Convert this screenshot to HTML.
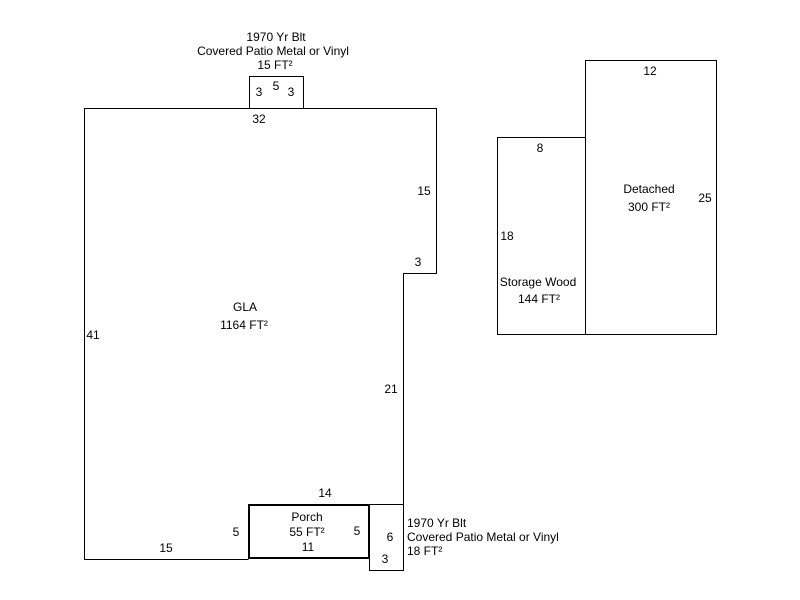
<!DOCTYPE html>
<html><head><meta charset="utf-8"><style>
html,body{margin:0;padding:0;background:#fff;}
svg{display:block;}
text{font-family:"Liberation Sans",Arial,sans-serif;font-size:12px;fill:#000;}
</style></head><body>
<svg width="800" height="600" viewBox="0 0 800 600" xmlns="http://www.w3.org/2000/svg">
<g fill="none" stroke="#000" stroke-width="1" shape-rendering="crispEdges">
<polyline points="248.5,559.5 84.5,559.5 84.5,108.5 436.5,108.5 436.5,273.5 403.5,273.5 403.5,570.5"/>
<rect x="249.5" y="76.5" width="54" height="32"/>
<rect x="369.5" y="504.5" width="34" height="66"/>
<rect x="497.5" y="137.5" width="88" height="197"/>
<rect x="585.5" y="60.5" width="131" height="274"/>
</g>
<rect x="249" y="505" width="120" height="53" fill="none" stroke="#000" stroke-width="2" shape-rendering="crispEdges"/>
<g text-anchor="middle">
<text x="276" y="41">1970 Yr Blt</text>
<text x="273" y="55">Covered Patio Metal or Vinyl</text>
<text x="275" y="69">15 FT²</text>
<text x="259" y="96">3</text>
<text x="276" y="90">5</text>
<text x="291" y="96">3</text>
<text x="259" y="123">32</text>
<text x="424" y="195">15</text>
<text x="418" y="266">3</text>
<text x="245" y="311">GLA</text>
<text x="244" y="329">1164 FT²</text>
<text x="93" y="339">41</text>
<text x="391" y="393">21</text>
<text x="325" y="497">14</text>
<text x="307" y="521">Porch</text>
<text x="307" y="536">55 FT²</text>
<text x="308" y="551">11</text>
<text x="236" y="536">5</text>
<text x="357" y="535">5</text>
<text x="166" y="552">15</text>
<text x="390" y="541">6</text>
<text x="385" y="563">3</text>
<text x="540" y="152">8</text>
<text x="507" y="240">18</text>
<text x="538" y="286">Storage Wood</text>
<text x="539" y="303">144 FT²</text>
<text x="650" y="75">12</text>
<text x="649" y="193">Detached</text>
<text x="649" y="211">300 FT²</text>
<text x="705" y="202">25</text>
</g>
<g text-anchor="start">
<text x="407" y="527">1970 Yr Blt</text>
<text x="407" y="541">Covered Patio Metal or Vinyl</text>
<text x="407" y="555">18 FT²</text>
</g>
</svg>
</body></html>
